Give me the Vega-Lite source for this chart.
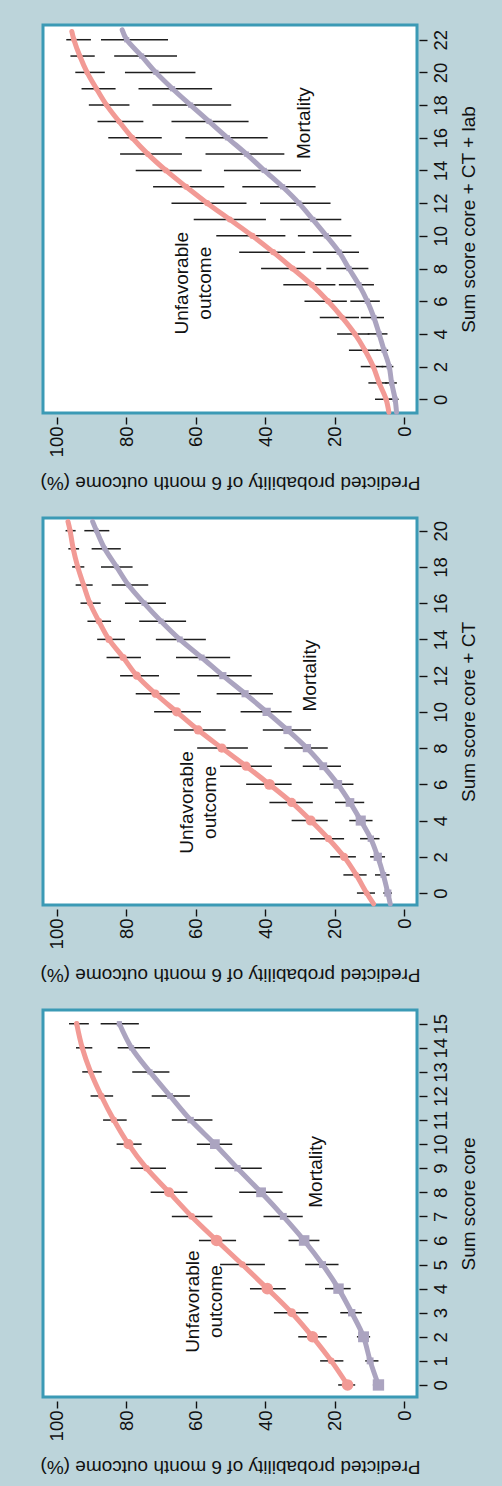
{
  "$schema": "https://vega.github.io/schema/vega-lite/v6.json",
  "background": "#bcd4da",
  "padding": {"left": 38, "top": 18, "right": 22, "bottom": 8},
  "bounds": "flush",
  "spacing": 105,
  "config": {
    "view": {"stroke": "#3b9ab5", "strokeWidth": 3, "fill": "#ffffff"},
    "font": "Liberation Sans",
    "axis": {"grid": false, "domain": false, "ticks": true, "tickColor": "#111111", "tickWidth": 1.4, "labelFont": "Liberation Sans", "labelFontSize": 18.5, "labelColor": "#111111", "titleFont": "Liberation Sans", "titleFontSize": 19, "titleFontWeight": "normal", "titleColor": "#111111", "labelOverlap": false, "labelFlush": false, "labelBound": false},
    "axisBottom": {"labelAngle": 270, "labelAlign": "right", "labelBaseline": "middle", "titleAngle": 180, "titleBaseline": "bottom", "tickSize": 7, "labelPadding": 2, "titlePadding": 16},
    "axisRight": {"labelAngle": 270, "labelAlign": "center", "labelBaseline": "top", "titleAngle": 270, "titleBaseline": "top", "tickSize": 8, "labelPadding": 4, "titlePadding": 10}
  },
  "datasets": {
    "p1": [
      {"o":"U","s":0,"p":16.3,"lo":14.1,"hi":19.0,"n":4},
      {"o":"U","s":1,"p":21.0,"lo":17.5,"hi":24.2,"n":1.3},
      {"o":"U","s":2,"p":26.4,"lo":22.3,"hi":30.5,"n":3.8},
      {"o":"U","s":3,"p":32.4,"lo":27.6,"hi":37.5,"n":2.3},
      {"o":"U","s":4,"p":39.4,"lo":34.1,"hi":44.4,"n":4},
      {"o":"U","s":5,"p":46.6,"lo":40.1,"hi":53.0,"n":1.3},
      {"o":"U","s":6,"p":54.0,"lo":48.4,"hi":59.1,"n":4},
      {"o":"U","s":7,"p":61.2,"lo":55.2,"hi":66.9,"n":1.3},
      {"o":"U","s":8,"p":67.7,"lo":62.4,"hi":73.0,"n":3},
      {"o":"U","s":9,"p":74.2,"lo":68.6,"hi":78.8,"n":1.3},
      {"o":"U","s":10,"p":79.4,"lo":75.6,"hi":82.8,"n":3},
      {"o":"U","s":11,"p":83.6,"lo":79.9,"hi":86.7,"n":1.2},
      {"o":"U","s":12,"p":87.2,"lo":83.8,"hi":90.3,"n":1.2},
      {"o":"U","s":13,"p":90.3,"lo":87.1,"hi":92.7,"n":0.8},
      {"o":"U","s":14,"p":92.7,"lo":89.8,"hi":94.5,"n":0.8},
      {"o":"U","s":15,"p":94.3,"lo":90.8,"hi":96.5,"n":0.8},
      {"o":"M","s":0,"p":7.4,"lo":6.0,"hi":9.0,"n":3.8},
      {"o":"M","s":1,"p":9.8,"lo":7.4,"hi":11.2,"n":1.4},
      {"o":"M","s":2,"p":11.7,"lo":9.8,"hi":13.6,"n":3.5},
      {"o":"M","s":3,"p":15.1,"lo":12.2,"hi":18.4,"n":1.6},
      {"o":"M","s":4,"p":18.9,"lo":15.4,"hi":22.8,"n":3.2},
      {"o":"M","s":5,"p":23.5,"lo":18.9,"hi":28.5,"n":1.4},
      {"o":"M","s":6,"p":28.8,"lo":24.4,"hi":33.3,"n":3.3},
      {"o":"M","s":7,"p":34.8,"lo":29.2,"hi":40.5,"n":1.4},
      {"o":"M","s":8,"p":41.2,"lo":35.0,"hi":47.5,"n":2.8},
      {"o":"M","s":9,"p":48.0,"lo":41.0,"hi":54.5,"n":1.2},
      {"o":"M","s":10,"p":54.5,"lo":49.5,"hi":59.7,"n":2.8},
      {"o":"M","s":11,"p":61.5,"lo":55.2,"hi":66.9,"n":1.2},
      {"o":"M","s":12,"p":67.4,"lo":61.7,"hi":72.7,"n":1.0},
      {"o":"M","s":13,"p":73.2,"lo":67.6,"hi":78.3,"n":0.8},
      {"o":"M","s":14,"p":78.5,"lo":73.2,"hi":82.5,"n":0.8},
      {"o":"M","s":15,"p":82.0,"lo":76.4,"hi":87.4,"n":0.8}
    ],
    "p2": [
      {"o":"U","s":-0.6,"p":8.8},
      {"o":"U","s":0,"p":10.8,"lo":8.4,"hi":13.6,"n":1.0},
      {"o":"U","s":1,"p":13.8,"lo":10.8,"hi":17.5,"n":1.0},
      {"o":"U","s":2,"p":17.3,"lo":13.9,"hi":21.3,"n":2.0},
      {"o":"U","s":3,"p":21.8,"lo":17.3,"hi":27.1,"n":1.5},
      {"o":"U","s":4,"p":26.9,"lo":22.0,"hi":32.4,"n":3.0},
      {"o":"U","s":5,"p":32.4,"lo":26.3,"hi":38.8,"n":2.5},
      {"o":"U","s":6,"p":38.8,"lo":32.4,"hi":45.5,"n":3.5},
      {"o":"U","s":7,"p":45.5,"lo":38.1,"hi":53.0,"n":2.5},
      {"o":"U","s":8,"p":52.5,"lo":45.0,"hi":59.6,"n":2.5},
      {"o":"U","s":9,"p":59.3,"lo":51.4,"hi":66.3,"n":2.5},
      {"o":"U","s":10,"p":65.5,"lo":58.5,"hi":72.0,"n":2.5},
      {"o":"U","s":11,"p":71.6,"lo":64.6,"hi":77.3,"n":2.0},
      {"o":"U","s":12,"p":77.0,"lo":70.6,"hi":81.8,"n":2.0},
      {"o":"U","s":13,"p":80.9,"lo":75.8,"hi":85.7,"n":1.5},
      {"o":"U","s":14,"p":85.0,"lo":80.4,"hi":88.4,"n":1.5},
      {"o":"U","s":15,"p":87.9,"lo":84.4,"hi":91.2,"n":1.2},
      {"o":"U","s":16,"p":90.5,"lo":87.4,"hi":93.2,"n":1.0},
      {"o":"U","s":17,"p":92.3,"lo":89.7,"hi":94.6,"n":0.8},
      {"o":"U","s":18,"p":94.0,"lo":92.1,"hi":95.6,"n":0.8},
      {"o":"U","s":19,"p":95.3,"lo":93.6,"hi":96.7,"n":0.8},
      {"o":"U","s":20,"p":96.2,"lo":94.6,"hi":97.5,"n":0.8},
      {"o":"U","s":20.5,"p":96.8},
      {"o":"M","s":-0.6,"p":4.0},
      {"o":"M","s":0,"p":4.7,"lo":3.5,"hi":6.0,"n":1.5},
      {"o":"M","s":1,"p":6.0,"lo":4.2,"hi":8.4,"n":1.0},
      {"o":"M","s":2,"p":7.6,"lo":5.5,"hi":9.8,"n":2.0},
      {"o":"M","s":3,"p":9.6,"lo":7.1,"hi":12.7,"n":1.2},
      {"o":"M","s":4,"p":12.5,"lo":9.1,"hi":15.8,"n":3.0},
      {"o":"M","s":5,"p":15.6,"lo":11.5,"hi":19.9,"n":2.2},
      {"o":"M","s":6,"p":19.1,"lo":14.6,"hi":24.2,"n":2.2},
      {"o":"M","s":7,"p":23.3,"lo":18.2,"hi":29.2,"n":1.8},
      {"o":"M","s":8,"p":28.0,"lo":22.0,"hi":34.5,"n":2.0},
      {"o":"M","s":9,"p":33.6,"lo":26.8,"hi":40.7,"n":2.0},
      {"o":"M","s":10,"p":39.6,"lo":32.4,"hi":47.1,"n":2.0},
      {"o":"M","s":11,"p":45.8,"lo":37.8,"hi":54.0,"n":1.5},
      {"o":"M","s":12,"p":52.2,"lo":43.9,"hi":59.6,"n":1.5},
      {"o":"M","s":13,"p":58.3,"lo":50.1,"hi":65.7,"n":1.0},
      {"o":"M","s":14,"p":64.6,"lo":57.1,"hi":71.5,"n":1.0},
      {"o":"M","s":15,"p":70.0,"lo":62.8,"hi":76.3,"n":0.8},
      {"o":"M","s":16,"p":74.9,"lo":68.6,"hi":80.4,"n":0.8},
      {"o":"M","s":17,"p":79.4,"lo":73.7,"hi":84.2,"n":0.6},
      {"o":"M","s":18,"p":82.8,"lo":78.2,"hi":87.3,"n":0.6},
      {"o":"M","s":19,"p":86.2,"lo":81.6,"hi":90.0,"n":0.6},
      {"o":"M","s":20,"p":88.6,"lo":84.9,"hi":92.1,"n":0.6},
      {"o":"M","s":20.5,"p":89.7}
    ],
    "p3": [
      {"o":"U","s":-0.8,"p":4.4},
      {"o":"U","s":0,"p":5.2,"lo":3.5,"hi":8.4,"n":0.8},
      {"o":"U","s":1,"p":7.2,"lo":4.8,"hi":10.3,"n":0.8},
      {"o":"U","s":2,"p":8.9,"lo":6.0,"hi":12.5,"n":0.8},
      {"o":"U","s":3,"p":11.3,"lo":7.5,"hi":15.9,"n":0.8},
      {"o":"U","s":4,"p":14.2,"lo":10.0,"hi":19.3,"n":0.8},
      {"o":"U","s":5,"p":17.8,"lo":13.0,"hi":24.3,"n":0.9},
      {"o":"U","s":6,"p":21.9,"lo":16.5,"hi":28.7,"n":1.1},
      {"o":"U","s":7,"p":26.6,"lo":19.8,"hi":34.8,"n":1.1},
      {"o":"U","s":8,"p":32.1,"lo":23.9,"hi":41.2,"n":1.1},
      {"o":"U","s":9,"p":37.7,"lo":28.5,"hi":47.5,"n":1.1},
      {"o":"U","s":10,"p":43.7,"lo":34.2,"hi":54.1,"n":1.2},
      {"o":"U","s":11,"p":50.2,"lo":39.8,"hi":60.6,"n":1.1},
      {"o":"U","s":12,"p":56.7,"lo":45.4,"hi":67.0,"n":1.1},
      {"o":"U","s":13,"p":62.8,"lo":51.8,"hi":72.3,"n":1.1},
      {"o":"U","s":14,"p":68.6,"lo":58.3,"hi":77.3,"n":1.0},
      {"o":"U","s":15,"p":73.8,"lo":64.0,"hi":81.8,"n":1.0},
      {"o":"U","s":16,"p":78.3,"lo":69.8,"hi":85.2,"n":1.0},
      {"o":"U","s":17,"p":82.1,"lo":75.1,"hi":88.3,"n":0.8},
      {"o":"U","s":18,"p":85.7,"lo":79.1,"hi":90.8,"n":0.8},
      {"o":"U","s":19,"p":88.6,"lo":83.1,"hi":92.9,"n":0.8},
      {"o":"U","s":20,"p":91.3,"lo":86.2,"hi":94.7,"n":0.8},
      {"o":"U","s":21,"p":93.4,"lo":89.1,"hi":96.1,"n":0.8},
      {"o":"U","s":22,"p":95.1,"lo":90.2,"hi":97.3,"n":0.8},
      {"o":"U","s":22.5,"p":95.7},
      {"o":"M","s":-0.8,"p":2.2},
      {"o":"M","s":0,"p":2.6,"lo":1.6,"hi":4.5,"n":0.8},
      {"o":"M","s":1,"p":3.6,"lo":2.1,"hi":5.5,"n":0.8},
      {"o":"M","s":2,"p":4.3,"lo":3.1,"hi":6.5,"n":0.8},
      {"o":"M","s":3,"p":5.8,"lo":4.6,"hi":8.0,"n":0.8},
      {"o":"M","s":4,"p":7.2,"lo":4.8,"hi":10.5,"n":0.8},
      {"o":"M","s":5,"p":8.7,"lo":5.8,"hi":12.5,"n":0.8},
      {"o":"M","s":6,"p":10.6,"lo":7.0,"hi":15.5,"n":0.8},
      {"o":"M","s":7,"p":13.0,"lo":8.7,"hi":18.8,"n":0.8},
      {"o":"M","s":8,"p":15.9,"lo":10.3,"hi":22.4,"n":0.8},
      {"o":"M","s":9,"p":18.7,"lo":13.0,"hi":26.3,"n":0.8},
      {"o":"M","s":10,"p":22.4,"lo":15.2,"hi":30.6,"n":0.8},
      {"o":"M","s":11,"p":26.3,"lo":18.1,"hi":35.7,"n":0.8},
      {"o":"M","s":12,"p":30.3,"lo":21.2,"hi":41.5,"n":0.8},
      {"o":"M","s":13,"p":35.0,"lo":25.5,"hi":46.6,"n":0.8},
      {"o":"M","s":14,"p":40.3,"lo":29.7,"hi":51.9,"n":0.8},
      {"o":"M","s":15,"p":45.4,"lo":34.5,"hi":57.2,"n":0.8},
      {"o":"M","s":16,"p":50.9,"lo":39.3,"hi":63.0,"n":0.8},
      {"o":"M","s":17,"p":56.2,"lo":44.8,"hi":67.0,"n":0.8},
      {"o":"M","s":18,"p":61.5,"lo":49.8,"hi":72.5,"n":0.8},
      {"o":"M","s":19,"p":66.7,"lo":55.3,"hi":76.5,"n":0.8},
      {"o":"M","s":20,"p":71.5,"lo":60.1,"hi":80.4,"n":0.8},
      {"o":"M","s":21,"p":75.6,"lo":65.4,"hi":83.5,"n":0.8},
      {"o":"M","s":22,"p":79.9,"lo":68.0,"hi":87.3,"n":0.8},
      {"o":"M","s":22.6,"p":81.2}
    ]
  },
  "vconcat": [
    {
      "width": 374, "height": 388,
      "data": {"name": "p3"},
      "encoding": {
        "y": {"field": "s", "type": "quantitative", "scale": {"domain": [-0.84, 22.9], "nice": false, "zero": false},
              "axis": {"orient": "right", "title": "Sum score core + CT + lab", "values": [0,2,4,6,8,10,12,14,16,18,20,22], "tickCount": 12, "offset": 2, "labelOverlap": false}},
        "x": {"field": "p", "type": "quantitative", "scale": {"domain": [-3.7, 104], "reverse": true, "nice": false, "zero": false},
              "axis": {"orient": "bottom", "title": "Predicted probability of 6 month outcome (%)", "values": [0,20,40,60,80,100], "offset": 4, "labelOverlap": false}}
      },
      "layer": [
        {"mark": {"type": "rule", "color": "#1e1e1e", "strokeWidth": 1.5},
         "transform": [{"filter": "isValid(datum.lo)"}],
         "encoding": {
           "x": {"field": "lo", "type": "quantitative", "scale": {"domain": [-3.7, 104], "reverse": true, "nice": false, "zero": false},
                 "axis": {"orient": "bottom", "title": "Predicted probability of 6 month outcome (%)", "values": [0,20,40,60,80,100], "offset": 4, "labelOverlap": false}},
           "x2": {"field": "hi"}
         }},
        {"mark": {"type": "line", "interpolate": "catmull-rom", "strokeWidth": 5, "strokeCap": "round"},
         "encoding": {
           "order": {"field": "s"},
           "color": {"field": "o", "type": "nominal", "scale": {"domain": ["U","M"], "range": ["#f29a95","#aba4c0"]}, "legend": null}
         }},
        {"mark": {"type": "point", "filled": true, "opacity": 1},
         "transform": [{"filter": "isValid(datum.n)"}],
         "encoding": {
           "color": {"field": "o", "type": "nominal", "scale": {"domain": ["U","M"], "range": ["#f29a95","#aba4c0"]}, "legend": null},
           "shape": {"field": "o", "type": "nominal", "scale": {"domain": ["U","M"], "range": ["circle","square"]}, "legend": null},
           "size": {"field": "n", "type": "quantitative", "scale": {"domain": [0,4], "range": [0,136]}, "legend": null}
         }},
        {"data": {"values": [{"s": 7.1, "p": 64.0, "t": "Unfavorable\noutcome"}, {"s": 16.9, "p": 28.8, "t": "Mortality"}]},
         "mark": {"type": "text", "angle": 270, "align": "center", "baseline": "middle", "fontSize": 19, "lineBreak": "\n", "lineHeight": 23, "color": "#111111", "font": "Liberation Sans"},
         "encoding": {"text": {"field": "t"}}}
      ]
    },
    {
      "width": 374, "height": 387,
      "data": {"name": "p2"},
      "encoding": {
        "y": {"field": "s", "type": "quantitative", "scale": {"domain": [-0.66, 20.7], "nice": false, "zero": false},
              "axis": {"orient": "right", "title": "Sum score core + CT", "values": [0,2,4,6,8,10,12,14,16,18,20], "tickCount": 11, "offset": 2, "labelOverlap": false}},
        "x": {"field": "p", "type": "quantitative", "scale": {"domain": [-3.7, 104], "reverse": true, "nice": false, "zero": false},
              "axis": {"orient": "bottom", "title": "Predicted probability of 6 month outcome (%)", "values": [0,20,40,60,80,100], "offset": 4, "labelOverlap": false}}
      },
      "layer": [
        {"mark": {"type": "rule", "color": "#1e1e1e", "strokeWidth": 1.5},
         "transform": [{"filter": "isValid(datum.lo)"}],
         "encoding": {
           "x": {"field": "lo", "type": "quantitative", "scale": {"domain": [-3.7, 104], "reverse": true, "nice": false, "zero": false},
                 "axis": {"orient": "bottom", "title": "Predicted probability of 6 month outcome (%)", "values": [0,20,40,60,80,100], "offset": 4, "labelOverlap": false}},
           "x2": {"field": "hi"}
         }},
        {"mark": {"type": "line", "interpolate": "catmull-rom", "strokeWidth": 5, "strokeCap": "round"},
         "encoding": {
           "order": {"field": "s"},
           "color": {"field": "o", "type": "nominal", "scale": {"domain": ["U","M"], "range": ["#f29a95","#aba4c0"]}, "legend": null}
         }},
        {"mark": {"type": "point", "filled": true, "opacity": 1},
         "transform": [{"filter": "isValid(datum.n)"}],
         "encoding": {
           "color": {"field": "o", "type": "nominal", "scale": {"domain": ["U","M"], "range": ["#f29a95","#aba4c0"]}, "legend": null},
           "shape": {"field": "o", "type": "nominal", "scale": {"domain": ["U","M"], "range": ["circle","square"]}, "legend": null},
           "size": {"field": "n", "type": "quantitative", "scale": {"domain": [0,4], "range": [0,136]}, "legend": null}
         }},
        {"data": {"values": [{"s": 5.0, "p": 62.6, "t": "Unfavorable\noutcome"}, {"s": 12.0, "p": 27.0, "t": "Mortality"}]},
         "mark": {"type": "text", "angle": 270, "align": "center", "baseline": "middle", "fontSize": 19, "lineBreak": "\n", "lineHeight": 23, "color": "#111111", "font": "Liberation Sans"},
         "encoding": {"text": {"field": "t"}}}
      ]
    },
    {
      "width": 374, "height": 387,
      "data": {"name": "p1"},
      "encoding": {
        "y": {"field": "s", "type": "quantitative", "scale": {"domain": [-0.5, 15.57], "nice": false, "zero": false},
              "axis": {"orient": "right", "title": "Sum score core", "values": [0,1,2,3,4,5,6,7,8,9,10,11,12,13,14,15], "tickCount": 16, "offset": 2, "labelOverlap": false}},
        "x": {"field": "p", "type": "quantitative", "scale": {"domain": [-3.7, 104], "reverse": true, "nice": false, "zero": false},
              "axis": {"orient": "bottom", "title": "Predicted probability of 6 month outcome (%)", "values": [0,20,40,60,80,100], "offset": 4, "labelOverlap": false}}
      },
      "layer": [
        {"mark": {"type": "rule", "color": "#1e1e1e", "strokeWidth": 1.5},
         "transform": [{"filter": "isValid(datum.lo)"}],
         "encoding": {
           "x": {"field": "lo", "type": "quantitative", "scale": {"domain": [-3.7, 104], "reverse": true, "nice": false, "zero": false},
                 "axis": {"orient": "bottom", "title": "Predicted probability of 6 month outcome (%)", "values": [0,20,40,60,80,100], "offset": 4, "labelOverlap": false}},
           "x2": {"field": "hi"}
         }},
        {"mark": {"type": "line", "interpolate": "catmull-rom", "strokeWidth": 5, "strokeCap": "round"},
         "encoding": {
           "order": {"field": "s"},
           "color": {"field": "o", "type": "nominal", "scale": {"domain": ["U","M"], "range": ["#f29a95","#aba4c0"]}, "legend": null}
         }},
        {"mark": {"type": "point", "filled": true, "opacity": 1},
         "transform": [{"filter": "isValid(datum.n)"}],
         "encoding": {
           "color": {"field": "o", "type": "nominal", "scale": {"domain": ["U","M"], "range": ["#f29a95","#aba4c0"]}, "legend": null},
           "shape": {"field": "o", "type": "nominal", "scale": {"domain": ["U","M"], "range": ["circle","square"]}, "legend": null},
           "size": {"field": "n", "type": "quantitative", "scale": {"domain": [0,4], "range": [0,136]}, "legend": null}
         }},
        {"data": {"values": [{"s": 3.46, "p": 60.7, "t": "Unfavorable\noutcome"}, {"s": 8.85, "p": 25.5, "t": "Mortality"}]},
         "mark": {"type": "text", "angle": 270, "align": "center", "baseline": "middle", "fontSize": 19, "lineBreak": "\n", "lineHeight": 23, "color": "#111111", "font": "Liberation Sans"},
         "encoding": {"text": {"field": "t"}}}
      ]
    }
  ]
}
